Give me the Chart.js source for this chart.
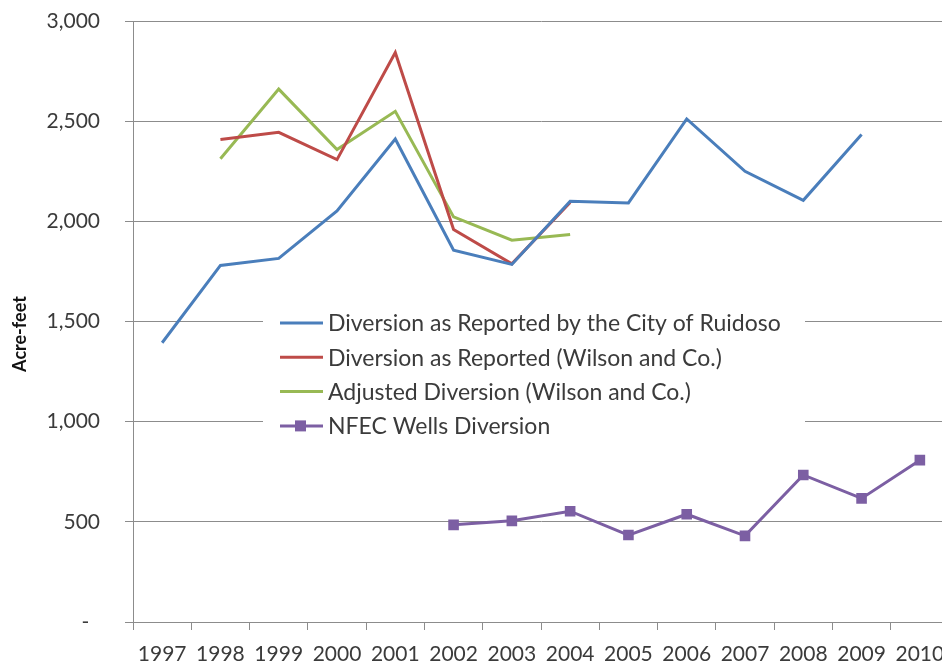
<!DOCTYPE html>
<html>
<head>
<meta charset="utf-8">
<script src="https://cdn.jsdelivr.net/npm/chart.js@4/dist/chart.umd.min.js"></script>
<style>
  html, body { margin: 0; padding: 0; background: #fff; overflow: hidden; }
  #wrap { width: 942px; height: 669px; overflow: hidden; position: relative; }
  canvas { display: block; }
</style>
</head>
<body>
<div id="wrap"><canvas id="c" width="950" height="669"></canvas></div>
<script>
// Annual diversions, acre-feet
const years = ['1997','1998','1999','2000','2001','2002','2003','2004','2005','2006','2007','2008','2009','2010'];
const cityOfRuidoso  = [1394, 1780, 1815, 2052, 2411, 1856, 1785, 2100, 2092, 2511, 2250, 2105, 2433, null];
const wilsonReported = [null, 2408, 2444, 2308, 2843, 1959, 1788, 2094, null, null, null, null, null, null];
const wilsonAdjusted = [null, 2312, 2660, 2358, 2549, 2022, 1906, 1934, null, null, null, null, null, null];
const nfecWells      = [null, null, null, null, null, 485, 505, 553, 434, 538, 430, 734, 617, 808];

const seriesNames = [
  'Diversion as Reported by the City of Ruidoso',
  'Diversion as Reported (Wilson and Co.)',
  'Adjusted Diversion (Wilson and Co.)',
  'NFEC Wells Diversion'
];
const yTicks = [0, 500, 1000, 1500, 2000, 2500, 3000];
const yTitle = 'Acre-feet';

const FONT = 'Lato, "Open Sans", sans-serif';
const TEXT = '#3b3b3b';
const GRID = '#8c8c8c';

// Legend drawn inside the plot on a white panel
const insideLegend = {
  id: 'insideLegend',
  afterDatasetsDraw(chart) {
    const ctx = chart.ctx;
    ctx.save();
    ctx.fillStyle = '#ffffff';
    ctx.fillRect(263, 306, 542, 136);
    ctx.font = '23px ' + FONT;
    ctx.textBaseline = 'middle';
    ctx.fillStyle = TEXT;
    chart.data.datasets.forEach((ds, i) => {
      const y = 323 + i * 34.3;
      ctx.strokeStyle = ds.borderColor;
      ctx.lineWidth = 3;
      ctx.beginPath();
      ctx.moveTo(280, y);
      ctx.lineTo(323, y);
      ctx.stroke();
      if (ds.pointStyle === 'rect' && ds.pointRadius > 0) {
        ctx.fillStyle = ds.pointBackgroundColor;
        ctx.fillRect(295, y - 5.5, 11, 11);
      }
      ctx.fillStyle = TEXT;
      ctx.fillText(ds.label, 328, y + 1);
    });
    ctx.restore();
  }
};

// Rotated y-axis title
const axisTitle = {
  id: 'axisTitle',
  afterDraw(chart) {
    const ctx = chart.ctx;
    ctx.save();
    ctx.translate(20, 334);
    ctx.rotate(-Math.PI / 2);
    ctx.font = 'bold 18px ' + FONT;
    ctx.fillStyle = '#111';
    ctx.textAlign = 'center';
    ctx.textBaseline = 'middle';
    ctx.fillText(yTitle, 0, 0);
    ctx.restore();
  }
};

const lineDs = (label, data, color) => ({
  label, data,
  borderColor: color,
  backgroundColor: color,
  borderWidth: 3,
  pointRadius: 0,
  pointHoverRadius: 0,
  tension: 0,
  spanGaps: false
});

const purple = '#7c5fa3';
const nfec = lineDs(seriesNames[3], nfecWells, purple);
nfec.pointStyle = 'rect';
nfec.pointRadius = 7.5;
nfec.pointBorderWidth = 0;
nfec.pointBackgroundColor = purple;
nfec.pointBorderColor = purple;

new Chart(document.getElementById('c'), {
  type: 'line',
  data: {
    labels: years,
    datasets: [
      lineDs(seriesNames[0], cityOfRuidoso, '#4a7ebb'),
      lineDs(seriesNames[1], wilsonReported, '#be4b48'),
      lineDs(seriesNames[2], wilsonAdjusted, '#98b954'),
      nfec
    ]
  },
  options: {
    responsive: false,
    animation: false,
    devicePixelRatio: 1,
    layout: { autoPadding: false, padding: { left: 0, top: 21, right: 1, bottom: 0 } },
    plugins: { legend: { display: false }, tooltip: { enabled: false } },
    scales: {
      x: {
        type: 'category',
        offset: true,
        afterFit(s) { s.height = 47; s.paddingLeft = 0; s.paddingRight = 0; },
        border: { display: true, color: GRID, width: 1 },
        grid: { display: true, offset: true, drawOnChartArea: false, drawTicks: true, tickLength: 8, color: GRID, lineWidth: 1 },
        ticks: { color: TEXT, font: { family: FONT, size: 21 }, padding: 12, maxRotation: 0, autoSkip: false }
      },
      y: {
        min: 0, max: 3000,
        afterFit(s) { s.width = 133; s.paddingTop = 0; s.paddingBottom = 0; },
        afterBuildTicks(s) { s.ticks = yTicks.map(v => ({ value: v })); },
        border: { display: true, color: GRID, width: 1 },
        grid: { color: GRID, lineWidth: 1, tickLength: 8, drawTicks: true },
        ticks: {
          color: TEXT,
          font: { family: FONT, size: 21 },
          padding: 25,
          callback: v => v === 0 ? '-  ' : v.toLocaleString('en-US')
        }
      }
    }
  },
  plugins: [insideLegend, axisTitle]
});
</script>
</body>
</html>
